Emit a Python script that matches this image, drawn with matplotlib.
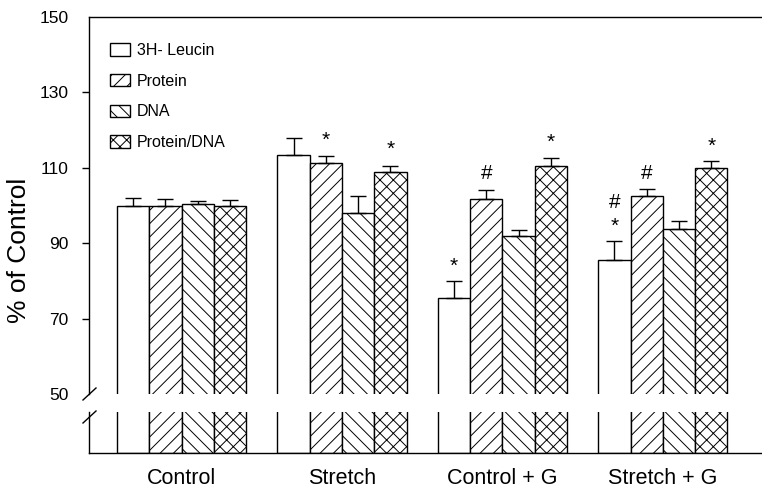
import matplotlib
matplotlib.use("Agg")
import matplotlib.pyplot as plt
import numpy as np
from matplotlib.lines import Line2D

plt.rcParams['font.family'] = ['Liberation Sans', 'DejaVu Sans']

categories = ["Control", "Stretch", "Control + G", "Stretch + G"]
series = ["3H- Leucin", "Protein", "DNA", "Protein/DNA"]
leucin = [100.0, 113.5, 75.5, 85.5]
leucin_err = [2.0, 4.4, 4.5, 5.1]
protein = [100.0, 111.3, 101.7, 102.5]
protein_err = [1.8, 1.9, 2.4, 2.0]
dna = [100.3, 98.0, 92.0, 93.8]
dna_err = [0.8, 4.5, 1.5, 2.0]
ratio = [100.0, 109.0, 110.5, 110.0]
ratio_err = [1.5, 1.5, 2.0, 1.8]
yticks = [50, 70, 90, 110, 130, 150]
# significance marks: (group, series index, symbol, value at glyph centre)
marks = [(1, 1, "*", 118.1), (1, 3, "*", 115.7),
         (2, 0, "*", 84.7), (2, 1, "#", 108.6), (2, 3, "*", 117.6),
         (3, 0, "*", 95.3), (3, 0, "#", 101.0), (3, 1, "#", 108.6), (3, 3, "*", 116.3)]

values = [leucin, protein, dna, ratio]
errors = [leucin_err, protein_err, dna_err, ratio_err]
hatches = [None, "//", "\\\\", "xx"]

# render at 80 dpi (denser hatching); S converts "100-dpi points" to 80-dpi points
DPI = 80
S = 100 / DPI
plt.rcParams['hatch.linewidth'] = 0.7 * S

W, H = 762, 488
fig = plt.figure(figsize=(W / DPI, H / DPI), dpi=DPI)
ax = fig.add_axes([89 / W, 1 - 394 / H, (W - 89) / W, (394 - 17) / H])
axb = fig.add_axes([89 / W, 1 - 452.7 / H, (W - 89) / W, (452.7 - 411.7) / H])

bw = 0.2014
xg = np.arange(len(categories))
handles = []
for j in range(4):
    x = xg + (j - 1.5) * bw
    for a in (ax, axb):
        b = a.bar(x, values[j], width=bw, facecolor="white", edgecolor="black",
                  linewidth=1.0 * S, hatch=hatches[j], label=series[j])
        if a is ax:
            handles.append(b)
    ax.errorbar(x, values[j], yerr=[np.zeros(4), errors[j]], fmt="none",
                ecolor="black", elinewidth=1.0 * S, capsize=5.5 * S, capthick=1.0 * S)

for g, j, sym, v in marks:
    x = g + (j - 1.5) * bw
    off = -2.0 if sym == "*" else -0.5
    ax.annotate(sym, (x, v), xytext=(0, off * S), textcoords="offset points",
                ha="center", va="center", fontsize=15 * S)

xlim = (-0.577, 3.618)
ax.set_xlim(*xlim)
axb.set_xlim(*xlim)
ax.set_ylim(50, 150)
axb.set_ylim(0, 10)

ax.spines["right"].set_visible(False)
ax.spines["bottom"].set_visible(False)
axb.spines["right"].set_visible(False)
axb.spines["top"].set_visible(False)
for a in (ax, axb):
    for s in a.spines.values():
        s.set_linewidth(1.0 * S)

ax.set_yticks(yticks)
ax.set_yticklabels([str(t) for t in yticks], fontsize=12.5 * S)
ax.tick_params(axis="y", direction="out", length=5 * S, width=1 * S, pad=9.5 * S)
ax.yaxis.get_major_ticks()[0].tick1line.set_visible(False)
ax.yaxis.get_major_ticks()[-1].tick1line.set_visible(False)
ax.set_xticks([])
axb.set_yticks([])
axb.set_xticks(xg)
axb.set_xticklabels(categories, fontsize=15.5 * S)
axb.tick_params(axis="x", length=0, pad=11 * S)

fig.text(19 / W, 1 - 250 / H, "% of Control", rotation=90, ha="center",
         va="center", fontsize=19 * S)

# break marks
for y0 in (400, 423):
    fig.add_artist(Line2D([83 / W, 96 / W], [1 - y0 / H, 1 - (y0 - 12) / H],
                          color="black", linewidth=1.0 * S, transform=fig.transFigure))

ax.legend(handles, series, loc="upper left", bbox_to_anchor=(110 / W, 1 - 43 / H),
          bbox_transform=fig.transFigure, frameon=False, fontsize=11.5 * S,
          borderpad=0, borderaxespad=0, handlelength=1.25, handleheight=0.8,
          handletextpad=0.45, labelspacing=0.98)

fig.savefig("out.png", dpi=DPI)
